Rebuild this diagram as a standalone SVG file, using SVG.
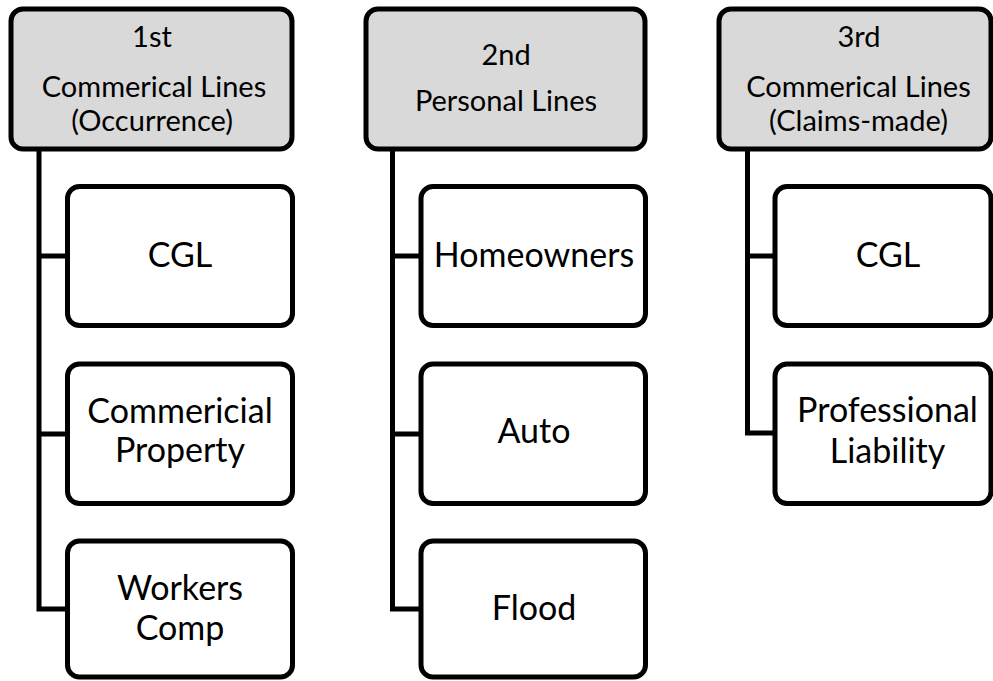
<svg xmlns="http://www.w3.org/2000/svg" width="993" height="681" viewBox="0 0 993 681">
<style>
.hdr{fill:#d9d9d9;stroke:#000;stroke-width:5}
.box{fill:#fff;stroke:#000;stroke-width:5}
.conn{fill:none;stroke:#000;stroke-width:5}
.ht{font-family:Lato,"Open Sans",sans-serif;font-size:29px;fill:#000;text-anchor:middle}
.bt{font-family:Lato,"Open Sans",sans-serif;font-size:34px;fill:#000;text-anchor:middle}
</style>
<rect width="993" height="681" fill="#fff"/>
<g id="connectors">
<path class="conn" d="M39,149 V609 H67.5 M39,256 H67.5 M39,434 H67.5"/>
<path class="conn" d="M392.5,149 V609 H421 M392.5,256 H421 M392.5,434 H421"/>
<path class="conn" d="M747.5,149 V433 H775 M747.5,256 H775"/>
</g>
<g id="h1"><rect class="hdr" x="11" y="9" width="281" height="140" rx="12"/>
<text class="ht" x="152" y="47">1st</text><text class="ht" x="154" y="97">Commerical Lines</text><text class="ht" x="152" y="131">(Occurrence)</text></g>
<g id="h2"><rect class="hdr" x="366" y="9" width="279" height="140" rx="12"/>
<text class="ht" x="506" y="65">2nd</text><text class="ht" x="506" y="111">Personal Lines</text></g>
<g id="h3"><rect class="hdr" x="719" y="9" width="272" height="140" rx="12"/>
<text class="ht" x="859" y="47">3rd</text><text class="ht" x="858.5" y="97">Commerical Lines</text><text class="ht" x="858.5" y="131">(Claims-made)</text></g>
<g id="c1"><rect class="box" x="67.5" y="186.5" width="225" height="139" rx="12"/><text class="bt" x="180" y="267">CGL</text></g>
<g id="c2"><rect class="box" x="67.5" y="364" width="225" height="139.5" rx="12"/><text class="bt" x="180" y="423">Commericial</text><text class="bt" x="180" y="462">Property</text></g>
<g id="c3"><rect class="box" x="67.5" y="541" width="225" height="136" rx="12"/><text class="bt" x="180" y="600">Workers</text><text class="bt" x="180" y="640">Comp</text></g>
<g id="c4"><rect class="box" x="421" y="186.5" width="224.5" height="139" rx="12"/><text class="bt" x="534" y="267">Homeowners</text></g>
<g id="c5"><rect class="box" x="421" y="364" width="224.5" height="139.5" rx="12"/><text class="bt" x="534" y="443">Auto</text></g>
<g id="c6"><rect class="box" x="421" y="541" width="224.5" height="136" rx="12"/><text class="bt" x="534" y="620">Flood</text></g>
<g id="c7"><rect class="box" x="775" y="186.5" width="216" height="139" rx="12"/><text class="bt" x="888" y="267">CGL</text></g>
<g id="c8"><rect class="box" x="775" y="364" width="216" height="139.5" rx="12"/><text class="bt" x="887.5" y="422">Professional</text><text class="bt" x="887.5" y="463">Liability</text></g>
</svg>
